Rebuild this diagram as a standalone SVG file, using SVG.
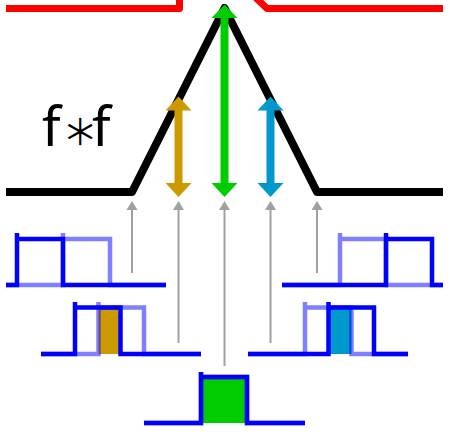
<svg xmlns="http://www.w3.org/2000/svg" width="450" height="432" viewBox="0 0 450 432">
<style>
.red{fill:none;stroke:#ff0000;stroke-width:7;stroke-linejoin:round}
.blk{fill:none;stroke:#000;stroke-width:8;stroke-linejoin:round}
.sig{fill:none;stroke:#0000ff;stroke-width:4.5}
.lt{opacity:0.5}
.gray{stroke:#a0a0a0;stroke-width:2}
.grayhd{fill:#a0a0a0}
.lbl{font-family:"Noto Sans","Open Sans",sans-serif;font-size:54px;fill:#000}
.star{font-family:"DejaVu Sans",sans-serif;font-size:46px;stroke:#fff;stroke-width:1.4;paint-order:fill stroke}
</style>
<rect width="450" height="432" fill="#fff"/>
<g id="red-curve">
<path class="red" d="M6,8.5 H179.5 V-6"/>
<path class="red" d="M254,-4 L267,8.5 H443"/>
</g>
<g id="autocorrelation">
<path class="blk" d="M6,192 H132 L224.5,8 L317,192 H443"/>
</g>
<g id="label">
<text class="lbl" y="146"><tspan x="42">f</tspan><tspan class="star" x="61" y="146">∗</tspan><tspan x="92" y="146">f</tspan></text>
</g>
<g id="connectors">
<g id="arrow-orange" fill="#cc9900">
<rect x="174.5" y="109" width="8" height="75"/>
<polygon points="178.5,96.5 165.5,110.5 191.5,110.5"/>
<polygon points="178.5,197 165.5,183 191.5,183"/>
</g>
<g id="arrow-green" fill="#00cc00">
<rect x="220.5" y="16" width="8" height="168"/>
<polygon points="224.5,4.5 211.5,18 237.5,18"/>
<polygon points="224.5,197 211.5,183 237.5,183"/>
</g>
<g id="arrow-blue" fill="#0099cc">
<rect x="266.5" y="109" width="8" height="75"/>
<polygon points="270.5,96.5 257.5,110.5 283.5,110.5"/>
<polygon points="270.5,197 257.5,183 283.5,183"/>
</g>
<g id="gray-arrows">
<line class="gray" x1="132" y1="273" x2="132" y2="208"/>
<polygon class="grayhd" points="132,201 126.5,210 137.5,210"/>
<line class="gray" x1="178.5" y1="343" x2="178.5" y2="208"/>
<polygon class="grayhd" points="178.5,201 173,210 184,210"/>
<line class="gray" x1="224.5" y1="366" x2="224.5" y2="208"/>
<polygon class="grayhd" points="224.5,201 219,210 230,210"/>
<line class="gray" x1="270.5" y1="343" x2="270.5" y2="208"/>
<polygon class="grayhd" points="270.5,201 265,210 276,210"/>
<line class="gray" x1="317" y1="273" x2="317" y2="208"/>
<polygon class="grayhd" points="317,201 311.5,210 322.5,210"/>
</g>
</g>
<g id="plot-left-1">
<path class="sig lt" d="M6,285 H63 V233 M63,239 H110 V285 H166"/>
<path class="sig" d="M6,285 H17 V233 M17,239 H63 V285 H166"/>
</g>
<g id="plot-right-1">
<path class="sig lt" d="M282,285 H340 V233 M340,239 H386 V285 H443"/>
<path class="sig" d="M282,285 H386 V233 M386,239 H432 V285 H443"/>
</g>
<g id="plot-left-2">
<rect x="98.5" y="307.5" width="22" height="46.5" fill="#cc9900"/>
<path class="sig lt" d="M41,354 H98.5 V302 M98.5,307.5 H144 V354 H201"/>
<path class="sig" d="M41,354 H75 V302 M75,307.5 H120.5 V354 H201"/>
</g>
<g id="plot-right-2">
<rect x="328.5" y="307.5" width="23" height="46.5" fill="#0099cc"/>
<path class="sig lt" d="M248,354 H305 V302 M305,307.5 H351.5 V354 H408"/>
<path class="sig" d="M248,354 H328.5 V302 M328.5,307.5 H374 V354 H408"/>
</g>
<g id="plot-center">
<rect x="201" y="377" width="46" height="46" fill="#00cc00"/>
<path class="sig lt" d="M144,423 H201 V372 M201,377 H247 V423 H305"/>
<path class="sig" d="M144,423 H201 V372 M201,377 H247 V423 H305"/>
</g>
</svg>
